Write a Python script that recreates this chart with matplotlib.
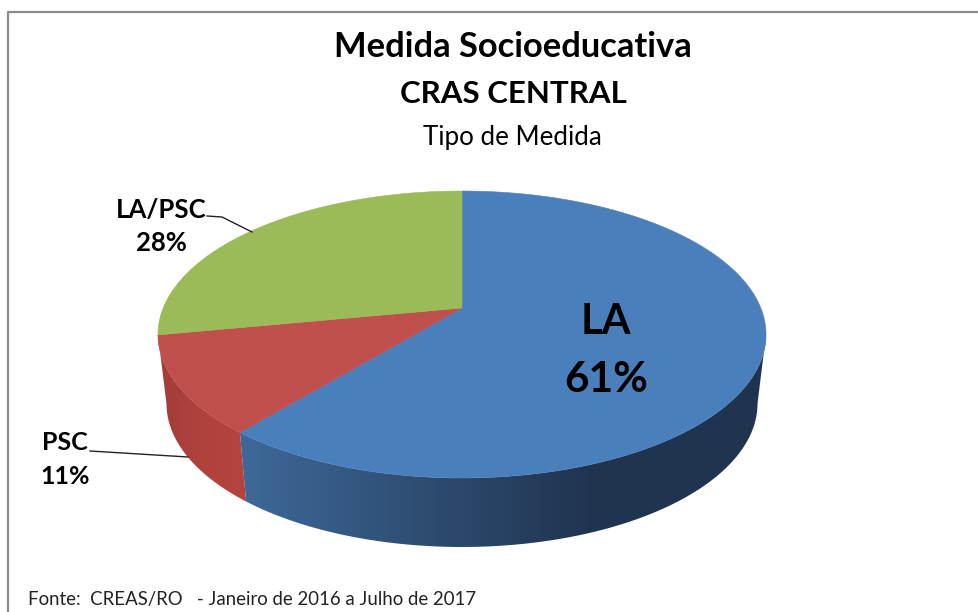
import numpy as np
import matplotlib
matplotlib.use("Agg")
import matplotlib.pyplot as plt
from matplotlib.colors import LinearSegmentedColormap
from matplotlib.patches import Polygon

categories = ["LA", "PSC", "LA/PSC"]
shares = [61, 11, 28]
top_colors = ["#4b7fbc", "#c0504d", "#9bbb59"]

# perspective of the disc, in pixels
cx, cy = 462, 308
radius = 298.8
persp = -0.1847
y_gain = 81.7
depth = 69
shrink = 0.972


def rim(theta):
    # theta in degrees, clockwise from the back of the disc
    t = np.radians(theta)
    u, v = np.sin(t), -np.cos(t)
    den = 1 + persp * v
    return cx + radius * u / den, (cy + y_gain * v) / den


plt.rcParams["font.family"] = ["Lato", "DejaVu Sans"]
fig = plt.figure(figsize=(9.79, 6.12), dpi=100)
ax = fig.add_axes([0, 0, 1, 1])
ax.set_xlim(0, 979)
ax.set_ylim(612, 0)
ax.axis("off")

# frame of the chart area
ax.plot([8.5, 8.5, 979], [612, 11.5, 11.5], color="#8c8c8c", lw=1.6)

blue_side = LinearSegmentedColormap.from_list(
    "blue_side", [(0, "#40699a"), (0.15, "#3d6797"), (0.5, "#2b4769"), (0.72, "#1f344f"), (1, "#1f344f")])
red_side = LinearSegmentedColormap.from_list(
    "red_side", [(0, "#a33c39"), (0.07, "#b0423e"), (0.15, "#b5443f"), (1, "#b5443f")])

# cumulative angles of the slices
edges = np.concatenate([[0], np.cumsum(shares)]) * 360 / sum(shares)

# the wall becomes visible where the rim turns back on the right
wall_start = np.degrees(np.arccos(persp))

# side wall: a horizontal gradient clipped to each slice's outline
ramp = np.linspace(0, 1, 608).reshape(1, -1)
for start, stop, cmap in [(wall_start, edges[1], blue_side), (edges[1], edges[2], red_side)]:
    x, y = rim(np.linspace(start, stop, 300))
    low_x = cx + (x - cx) * shrink
    outline = np.column_stack([np.r_[x, low_x[::-1]], np.r_[y, y[::-1] + depth]])
    wall = Polygon(outline, closed=True, transform=ax.transData, fc="none", ec="none")
    ax.add_patch(wall)
    img = ax.imshow(ramp, cmap=cmap, extent=[158, 766, 612, 0], aspect="auto", interpolation="bilinear")
    img.set_clip_path(wall)
ax.set_xlim(0, 979)
ax.set_ylim(612, 0)

# top face
for i, color in enumerate(top_colors):
    th = np.linspace(edges[i], edges[i + 1], 200)
    x, y = rim(th)
    ax.fill(np.r_[cx, x], np.r_[cy, y], color=color, lw=0.4)

# title block
ax.text(513, 47, "Medida Socioeducativa", ha="center", va="center", fontsize=24.8, fontweight="bold")
ax.text(513, 94, "CRAS CENTRAL", ha="center", va="center", fontsize=22.5, fontweight="bold")
ax.text(512, 137, "Tipo de Medida", ha="center", va="center", fontsize=18.6)

# data labels
ax.text(606, 322, categories[0], ha="center", va="center", fontsize=30, fontweight="bold")
ax.text(606, 380, f"{shares[0]}%", ha="center", va="center", fontsize=30.5, fontweight="bold")
ax.text(161, 210, categories[2], ha="center", va="center", fontsize=18.5, fontweight="bold")
ax.text(161, 243, f"{shares[2]}%", ha="center", va="center", fontsize=18.5, fontweight="bold")
ax.text(65, 443, categories[1], ha="center", va="center", fontsize=18, fontweight="bold")
ax.text(65, 477, f"{shares[1]}%", ha="center", va="center", fontsize=18, fontweight="bold")

# leader lines
ax.plot([207, 222, 252], [216, 217, 232], color="#222222", lw=1)
ax.plot([90, 188], [451, 457], color="#222222", lw=1)

ax.text(28, 600, "Fonte:  CREAS/RO   - Janeiro de 2016 a Julho de 2017", ha="left", va="center",
        fontsize=13.4, color="#222222")

fig.savefig("out.png", dpi=100)
